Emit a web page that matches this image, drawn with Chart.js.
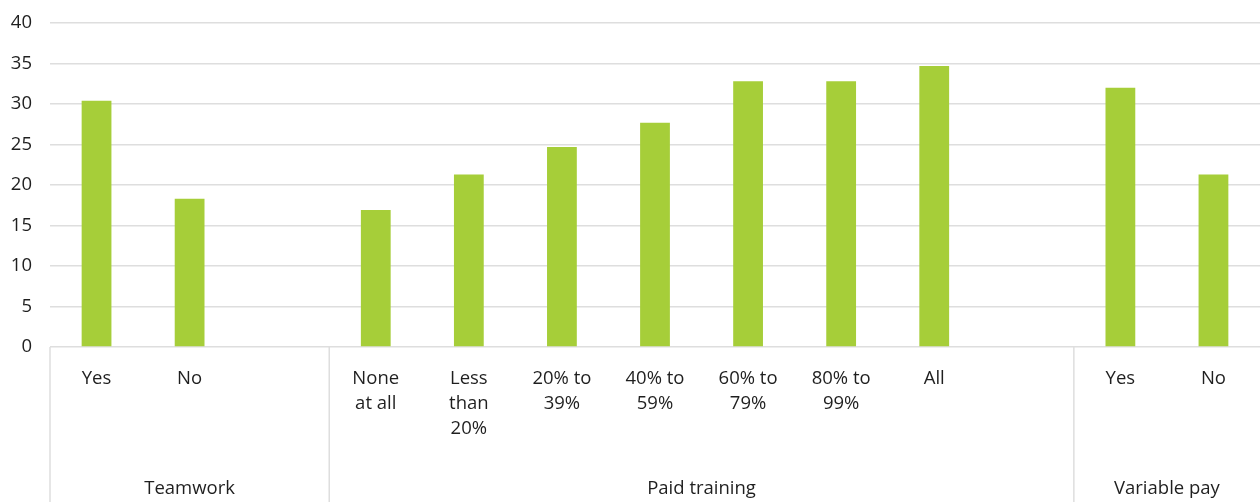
<!DOCTYPE html>
<html>
<head>
<meta charset="utf-8">
<script src="https://cdn.jsdelivr.net/npm/chart.js@4.4.1/dist/chart.umd.min.js"></script>
<style>
  html, body { margin: 0; padding: 0; background: #fff; }
  #wrap { width: 1260px; height: 502px; }
</style>
</head>
<body>
<div id="wrap"><canvas id="grafico"></canvas></div>
<script>
// categorías (vacías = hueco entre grupos)
const categories = [
    ["Yes"], ["No"], [""],
    ["None", "at all"], ["Less", "than", "20%"], ["20% to", "39%"], ["40% to", "59%"],
    ["60% to", "79%"], ["80% to", "99%"], ["All"], [""],
    ["Yes"], ["No"]
];
const values = [30.4, 18.3, null, 16.9, 21.3, 24.7, 27.7, 32.8, 32.8, 34.7, null, 32.0, 21.3];

const groupNames = ["Teamwork", "Paid training", "Variable pay"];
const groupSizes = [3, 8, 2];

const yTicks = [0, 5, 10, 15, 20, 25, 30, 35, 40];

const FONT = "'Open Sans'";
const TEXT = "#1f1f1f";

// separadores y nombres de grupo debajo del eje
const grupos = {
    id: "grupos",
    afterDraw(chart) {
        const ctx = chart.ctx;
        const x = chart.scales.x;
        const half = (x.getPixelForValue(1) - x.getPixelForValue(0)) / 2;
        const top = chart.chartArea.bottom;
        ctx.save();
        ctx.strokeStyle = "#dedede";
        ctx.lineWidth = 1.5;
        ctx.fillStyle = TEXT;
        ctx.font = "18.5px " + FONT;
        ctx.textAlign = "center";
        ctx.textBaseline = "middle";
        let start = 0;
        groupSizes.forEach((n, g) => {
            const left = x.getPixelForValue(start) - half;
            const right = x.getPixelForValue(start + n - 1) + half;
            ctx.beginPath();
            ctx.moveTo(left, top);
            ctx.lineTo(left, chart.height);
            ctx.stroke();
            ctx.fillText(groupNames[g], (left + right) / 2, chart.height - 13);
            start += n;
        });
        ctx.restore();
    }
};

new Chart(document.getElementById("grafico").getContext("2d"), {
    type: "bar",
    data: {
        labels: categories,
        datasets: [{
            data: values,
            backgroundColor: "#a6ce39",
            barPercentage: 0.32,
            categoryPercentage: 1
        }]
    },
    options: {
        responsive: true,
        maintainAspectRatio: false,
        animation: false,
        layout: { padding: { top: 23, right: 0, left: 0, bottom: 0 } },
        plugins: { legend: { display: false }, tooltip: { enabled: false } },
        scales: {
            x: {
                grid: { display: false },
                border: { display: false },
                ticks: {
                    color: TEXT,
                    font: { family: FONT, size: 18.5, lineHeight: 1.35 },
                    maxRotation: 0,
                    autoSkip: false,
                    padding: 11
                },
                afterFit(scale) { scale.height = 155; }
            },
            y: {
                min: 0,
                max: 40,
                afterBuildTicks(scale) { scale.ticks = yTicks.map(v => ({ value: v })); },
                grid: { color: "#dedede", lineWidth: 1.5, drawTicks: false },
                border: { display: false },
                ticks: {
                    color: TEXT,
                    font: { family: FONT, size: 18.5, lineHeight: 0.5 },
                    padding: 18
                },
                afterFit(scale) { scale.width = 50; }
            }
        }
    },
    plugins: [grupos]
});
</script>
</body>
</html>
